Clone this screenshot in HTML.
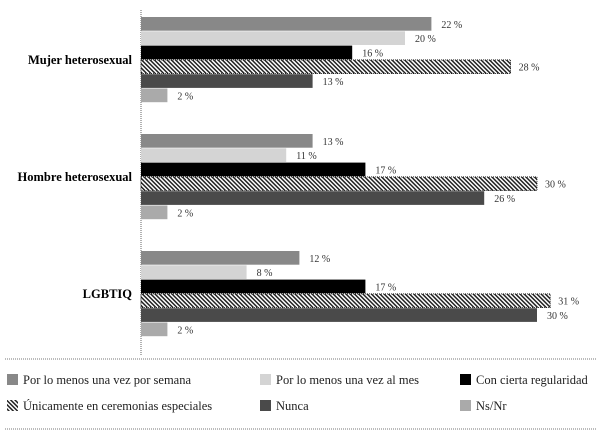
<!DOCTYPE html>
<html><head><meta charset="utf-8"><style>
body{margin:0;background:#fff;width:600px;height:433px;overflow:hidden;font-family:"Liberation Serif",serif;}
svg{display:block}
</style></head><body>
<svg id="chart" width="600" height="433">
<defs>
<pattern id="hatch" patternUnits="userSpaceOnUse" width="3" height="3" patternTransform="rotate(-45)">
<rect width="3" height="3" fill="#fff"/><rect width="1.5" height="3" fill="#222"/>
</pattern>
</defs>
<line x1="141" y1="10" x2="141" y2="355" stroke="#666" stroke-width="1" stroke-dasharray="1,1"/>
<g id="bars"></g>
<line x1="5" y1="359" x2="596" y2="359" stroke="#777" stroke-dasharray="1,1"/>
<line x1="5" y1="429" x2="596" y2="429" stroke="#777" stroke-dasharray="1,1"/>
<g id="legend" font-size="12.5" fill="#222"></g>
</svg>
<script>
const categories = ["Mujer heterosexual","Hombre  heterosexual","LGBTIQ"];
const seriesNames = ["Por lo menos una vez por semana","Por lo menos una vez al mes","Con cierta regularidad","Únicamente en ceremonias especiales","Nunca","Ns/Nr"];
const s1 = [22,13,12];
const s2 = [20,11,8];
const s3 = [16,17,17];
const s4 = [28,30,31];
const s5 = [13,26,30];
const s6 = [2,2,2];
const series = [s1,s2,s3,s4,s5,s6];
const fills = ["#888","#d4d4d4","#000","url(#hatch)","#4a4a4a","#aaa"];
const NS="http://www.w3.org/2000/svg";
const x0=141, pxPer=13.2, groupTop=17, groupStep=117, barH=14.3;
const xs=v=>x0+v*pxPer;
const bars=document.getElementById('bars');
categories.forEach((c,gi)=>{
  const t=document.createElementNS(NS,'text');
  
  
  t.setAttribute('x',132);t.setAttribute('y',groupTop+gi*groupStep+3*barH+4);
  t.setAttribute('text-anchor','end');t.setAttribute('font-weight','bold');t.setAttribute('font-size','12.5');
  t.textContent=c;bars.appendChild(t);
  series.forEach((s,si)=>{
    const y=groupTop+gi*groupStep+si*barH;
    const r=document.createElementNS(NS,'rect');
    
    
    r.setAttribute('x',x0);r.setAttribute('y',y);r.setAttribute('width',xs(s[gi])-x0);r.setAttribute('height',barH-0.6);
    r.setAttribute('fill',fills[si]);
    if(si===3){r.setAttribute('stroke','#000');r.setAttribute('stroke-width','0.8');r.setAttribute('stroke-dasharray','1,1');}
    bars.appendChild(r);
    const l=document.createElementNS(NS,'text');
    
    
    l.setAttribute('x',xs(s[gi])+(si===3?8:10));l.setAttribute('y',y+barH-3.5);
    l.setAttribute('font-size','10');l.setAttribute('fill','#333');
    l.textContent=s[gi]+' %';bars.appendChild(l);
  });
});
const lg=document.getElementById('legend');
const lx=[7,260,460];
seriesNames.forEach((n,i)=>{
  const x=lx[i%3], y=i<3?374:400;
  const r=document.createElementNS(NS,'rect');
  
  
  r.setAttribute('x',x);r.setAttribute('y',y);r.setAttribute('width',11);r.setAttribute('height',11);r.setAttribute('fill',fills[i]);
  lg.appendChild(r);
  const t=document.createElementNS(NS,'text');
  
  
  t.setAttribute('x',x+16);t.setAttribute('y',y+10);t.textContent=n;lg.appendChild(t);
});
</script>
</body></html>
